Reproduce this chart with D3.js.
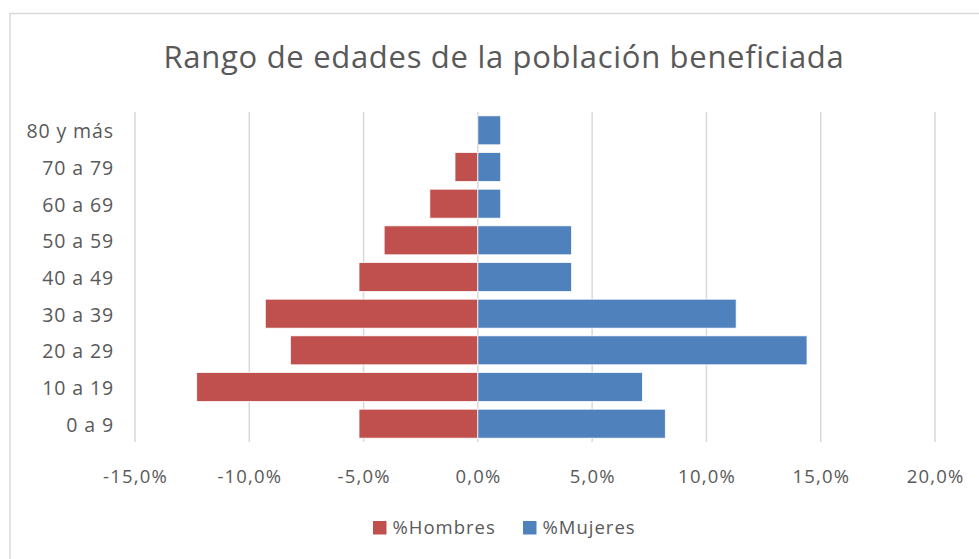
<!DOCTYPE html>
<html>
<head>
<meta charset="utf-8">
<script src="https://cdn.jsdelivr.net/npm/d3@7"></script>
<style>
  html, body { margin: 0; padding: 0; background: #fff; }
  text { font-family: "Open Sans", "Noto Sans", sans-serif; fill: #595959; }
</style>
</head>
<body>
<div id="chart"></div>
<script>
// datos (de arriba hacia abajo en el gráfico)
const categorias = ["80 y más", "70 a 79", "60 a 69", "50 a 59", "40 a 49", "30 a 39", "20 a 29", "10 a 19", "0 a 9"];
const hombres = [0, -1.0, -2.1, -4.1, -5.2, -9.3, -8.2, -12.3, -5.2];
const mujeres = [1.0, 1.0, 1.0, 4.1, 4.1, 11.3, 14.4, 7.2, 8.2];
const ticksX = [-15, -10, -5, 0, 5, 10, 15, 20];
const series = [
  { nombre: "%Hombres", valores: hombres, color: "#C0504D" },
  { nombre: "%Mujeres", valores: mujeres, color: "#4F81BD" }
];
const titulo = "Rango de edades de la población beneficiada";

const W = 979, H = 559;

const loc = d3.formatLocale({ decimal: ",", thousands: ".", grouping: [3], currency: ["", ""], minus: "-" });
const fmt = loc.format(".1f");

const svg = d3.select("#chart").append("svg")
  .attr("width", W)
  .attr("height", H);

svg.append("rect").attr("width", W).attr("height", H).attr("fill", "#fff");

// marco
svg.append("rect")
  .attr("x", 10).attr("y", 13.5)
  .attr("width", W + 20).attr("height", H + 20)
  .attr("fill", "none")
  .attr("stroke", "#d9d9d9")
  .attr("stroke-width", 1.5);

const x = d3.scaleLinear().domain([-15, 20]).range([135, 935]);
const y = d3.scaleBand().domain(categorias).range([112, 442])
  .paddingInner(0.21).paddingOuter(0.105);

// rejilla
svg.append("g").selectAll("line").data(ticksX).join("line")
  .attr("x1", d => x(d)).attr("x2", d => x(d))
  .attr("y1", 112).attr("y2", 442)
  .attr("stroke", "#d9d9d9")
  .attr("stroke-width", 1.5);

// barras
series.forEach(s => {
  svg.append("g").selectAll("rect").data(s.valores).join("rect")
    .attr("x", d => x(Math.min(0, d)))
    .attr("width", d => Math.abs(x(d) - x(0)))
    .attr("y", (d, i) => y(categorias[i]))
    .attr("height", y.bandwidth())
    .attr("fill", s.color)
    .attr("stroke", d => d === 0 ? "none" : "#fff")
    .attr("stroke-width", 0.75);
});

// etiquetas del eje X
svg.append("g").selectAll("text").data(ticksX).join("text")
  .attr("x", d => x(d) + 0.6)
  .attr("y", 475.5)
  .attr("text-anchor", "middle")
  .attr("dominant-baseline", "central")
  .style("font-size", "18.5px")
  .style("letter-spacing", "1.2px")
  .text(d => fmt(d) + "%");

// etiquetas de categorías
svg.append("g").selectAll("text").data(categorias).join("text")
  .attr("x", 114)
  .attr("y", d => y(d) + y.bandwidth() / 2 + 0.5)
  .attr("text-anchor", "end")
  .attr("dominant-baseline", "central")
  .style("font-size", "19.5px")
  .style("letter-spacing", "0.9px")
  .text(d => d);

// título
svg.append("text")
  .attr("x", 504)
  .attr("y", 67.7)
  .attr("text-anchor", "middle")
  .style("font-size", "31px")
  .style("letter-spacing", "0.7px")
  .text(titulo);

// leyenda
const leyenda = svg.append("g");
const posLeyenda = [373, 523];
series.forEach((s, i) => {
  const g = leyenda.append("g").attr("transform", `translate(${posLeyenda[i]},521)`);
  g.append("rect").attr("width", 13.5).attr("height", 13.5).attr("fill", s.color);
  g.append("text")
    .attr("x", 19.5).attr("y", 13)
    .style("font-size", "18.5px")
    .style("letter-spacing", "1px")
    .text(s.nombre);
});
</script>
</body>
</html>
